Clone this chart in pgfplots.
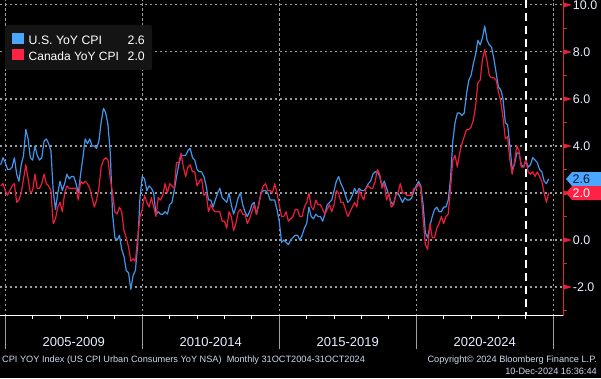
\documentclass[border=0pt]{standalone}
\usepackage{pgfplots}
\pgfplotsset{compat=1.18}
\usepackage{pgfplotstable}
\usepackage{fontspec}
\setmainfont{Liberation Sans}
\definecolor{usline}{HTML}{3F96EC}
\definecolor{caline}{HTML}{EC1C3E}
\definecolor{usbox}{HTML}{4AA6FF}
\definecolor{cabox}{HTML}{FF2244}
\definecolor{axred}{HTML}{E8203C}
\definecolor{gridc}{HTML}{9A9A9A}
\definecolor{sepc}{HTML}{A0A0A0}
\definecolor{tickc}{HTML}{E6EEFF}
\definecolor{footc}{HTML}{CCD8EE}
\definecolor{legbg}{HTML}{141414}
\definecolor{boxtext}{HTML}{0B1630}

% m = months since Oct 2004 (month-end), us = U.S. YoY CPI, ca = Canada YoY CPI
\pgfplotstableread{
m us ca
0 3.2 2.3
1 3.5 2.4
2 3.3 2.1
3 3.0 1.9
4 3.0 2.1
5 3.1 2.3
6 3.5 2.4
7 2.8 1.6
8 2.5 1.7
9 3.2 2.0
10 3.6 2.6
11 4.7 3.2
12 4.3 2.6
13 3.5 2.0
14 3.4 2.1
15 4.0 2.8
16 3.6 2.2
17 3.4 2.2
18 3.5 2.4
19 4.2 2.8
20 4.3 2.4
21 4.1 2.3
22 3.8 2.1
23 2.1 0.7
24 1.3 0.9
25 2.0 1.4
26 2.5 1.6
27 2.1 1.2
28 2.4 2.0
29 2.8 2.3
30 2.6 2.2
31 2.7 2.2
32 2.7 2.2
33 2.4 2.2
34 2.0 1.7
35 2.8 2.5
36 3.5 2.4
37 4.3 2.5
38 4.1 2.4
39 4.3 2.2
40 4.0 1.8
41 4.0 1.4
42 3.9 1.7
43 4.2 2.2
44 5.0 3.1
45 5.6 3.4
46 5.4 3.5
47 4.9 3.4
48 3.7 2.6
49 1.1 2.0
50 0.1 1.2
51 0.0 1.1
52 0.2 1.4
53 -0.4 1.2
54 -0.7 0.4
55 -1.3 0.1
56 -1.4 -0.3
57 -2.1 -0.9
58 -1.5 -0.8
59 -1.3 -0.9
60 -0.2 0.1
61 1.8 1.0
62 2.7 1.3
63 2.6 1.9
64 2.1 1.6
65 2.3 1.4
66 2.2 1.8
67 2.0 1.4
68 1.1 1.0
69 1.2 1.8
70 1.1 1.7
71 1.1 1.9
72 1.2 2.4
73 1.1 2.0
74 1.5 2.4
75 1.6 2.3
76 2.1 2.2
77 2.7 3.3
78 3.2 3.3
79 3.6 3.7
80 3.6 3.1
81 3.6 2.7
82 3.8 3.1
83 3.9 3.2
84 3.5 2.9
85 3.4 2.9
86 3.0 2.3
87 2.9 2.5
88 2.9 2.6
89 2.7 1.9
90 2.3 2.0
91 1.7 1.2
92 1.7 1.5
93 1.4 1.3
94 1.7 1.2
95 2.0 1.2
96 2.2 1.2
97 1.8 0.8
98 1.7 0.8
99 1.6 0.5
100 2.0 1.2
101 1.5 1.0
102 1.1 0.4
103 1.4 0.7
104 1.8 1.2
105 2.0 1.3
106 1.5 1.1
107 1.2 1.1
108 1.0 0.7
109 1.2 0.9
110 1.5 1.2
111 1.6 1.5
112 1.1 1.1
113 1.5 1.5
114 2.0 2.0
115 2.1 2.3
116 2.1 2.4
117 2.0 2.1
118 1.7 2.1
119 1.7 2.0
120 1.7 2.4
121 1.3 2.0
122 0.8 1.5
123 -0.1 1.0
124 0.0 1.0
125 -0.1 1.2
126 -0.2 0.8
127 0.0 0.9
128 0.1 1.0
129 0.2 1.3
130 0.2 1.3
131 0.0 1.0
132 0.2 1.0
133 0.5 1.4
134 0.7 1.6
135 1.4 2.0
136 1.0 1.4
137 0.9 1.3
138 1.1 1.7
139 1.0 1.5
140 1.0 1.5
141 0.8 1.3
142 1.1 1.1
143 1.5 1.3
144 1.6 1.5
145 1.7 1.2
146 2.1 1.5
147 2.5 2.1
148 2.7 2.0
149 2.4 1.6
150 2.2 1.6
151 1.9 1.3
152 1.6 1.0
153 1.7 1.2
154 1.9 1.4
155 2.2 1.6
156 2.0 1.4
157 2.2 2.1
158 2.1 1.9
159 2.1 1.7
160 2.2 2.2
161 2.4 2.3
162 2.5 2.2
163 2.8 2.2
164 2.9 2.5
165 2.9 3.0
166 2.7 2.8
167 2.3 2.2
168 2.5 2.4
169 2.2 1.7
170 1.9 2.0
171 1.6 1.4
172 1.5 1.5
173 1.9 1.9
174 2.0 2.0
175 1.8 2.4
176 1.6 2.0
177 1.8 2.0
178 1.7 1.9
179 1.7 1.9
180 1.8 1.9
181 2.1 2.2
182 2.3 2.2
183 2.5 2.4
184 2.3 2.2
185 1.5 0.9
186 0.3 -0.2
187 0.1 -0.4
188 0.6 0.7
189 1.0 0.1
190 1.3 0.1
191 1.4 0.5
192 1.2 0.7
193 1.2 1.0
194 1.4 0.7
195 1.4 1.0
196 1.7 1.1
197 2.6 2.2
198 4.2 3.4
199 5.0 3.6
200 5.4 3.1
201 5.4 3.7
202 5.3 4.1
203 5.4 4.4
204 6.2 4.7
205 6.8 4.7
206 7.0 4.8
207 7.5 5.1
208 7.9 5.7
209 8.5 6.7
210 8.3 6.8
211 8.6 7.7
212 9.1 8.1
213 8.5 7.6
214 8.3 7.0
215 8.2 6.9
216 7.7 6.9
217 7.1 6.8
218 6.5 6.3
219 6.4 5.9
220 6.0 5.2
221 5.0 4.3
222 4.9 4.4
223 4.0 3.4
224 3.0 2.8
225 3.2 3.3
226 3.7 4.0
227 3.7 3.8
228 3.2 3.1
229 3.1 3.1
230 3.4 3.4
231 3.1 2.9
232 3.2 2.8
233 3.5 2.9
234 3.4 2.7
235 3.3 2.9
236 3.0 2.7
237 2.9 2.5
238 2.5 2.0
239 2.4 1.6
240 2.6 2.0
}\cpidata

% pixel mapping of the axis (for decorations only)
\newcommand{\XM}[1]{2.28334*(#1+0.3)}
\newcommand{\YV}[1]{62.3+23.507*(#1+3.22)}

\begin{document}
\begin{tikzpicture}[x=1pt,y=1pt]
\path[use as bounding box, fill=black] (0,0) rectangle (601,378);
% horizontal grid
\foreach \v in {-2,0,2,4,6,8,10}{
  \draw[gridc, line width=1.1pt, dash pattern=on 2.2pt off 2.8pt] (0,{\YV{\v}}) -- (563.3,{\YV{\v}});
}
% vertical grid at 5-year boundaries + separators below axis
\foreach \m in {2,62,122,182,242}{
  \draw[gridc, line width=1.1pt, dash pattern=on 2.2pt off 2.8pt] ({\XM{\m}},62.3) -- ({\XM{\m}},378);
  \draw[sepc, line width=1pt] ({\XM{\m}},62.3) -- ({\XM{\m}},29);
}
% yearly ticks
\foreach \m in {14,26,38,50,74,86,98,110,134,146,158,170,194,206,218,230}{
  \draw[white, line width=0.9pt] ({\XM{\m}},62.3) -- ({\XM{\m}},58.6);
}
% dashed line at start of 2024
\draw[white, line width=1.4pt, dash pattern=on 8pt off 5pt] ({\XM{230}},378) -- ({\XM{230}},62.3);

\begin{axis}[
  at={(0pt,62.3pt)}, anchor=south west,
  scale only axis, width=563.3pt, height=315.7pt,
  xmin=-0.3, xmax=246.4, ymin=-3.22, ymax=10.21,
  xtick=\empty, ytick=\empty,
  axis line style={draw=none},
]
\addplot[usline, line width=1.2pt, line join=round] table[x=m, y=us] {\cpidata};
\addplot[caline, line width=1.2pt, line join=round] table[x=m, y=ca] {\cpidata};
\end{axis}

% x axis line
\draw[white, line width=1pt] (0,62.3) -- (563.3,62.3);
% right axis
\draw[axred, line width=1pt] (563.3,62.3) -- (563.3,378);
\foreach \v in {-2,0,2,4,6,8,10}{
  \fill[axred] (563.3,{\YV{\v}+2.6}) -- (571.9,{\YV{\v}}) -- (563.3,{\YV{\v}-2.6}) -- cycle;
}
\foreach \v in {-3,-1,1,3,5,7,9}{
  \draw[axred, line width=0.9pt] (563.3,{\YV{\v}}) -- (567.3,{\YV{\v}});
}
% y tick labels
\tikzset{ytl/.style={anchor=west, inner sep=0pt, text=tickc, font=\fontsize{12.5}{14}\selectfont}}
\node[ytl] at (572.7,{\YV{10}}) {10.0};
\node[ytl] at (572.7,{\YV{8}}) {8.0};
\node[ytl] at (572.7,{\YV{6}}) {6.0};
\node[ytl] at (572.7,{\YV{4}}) {4.0};
\node[ytl] at (572.7,{\YV{0}}) {0.0};
\node[ytl] at (572.7,{\YV{-2}}) {-2.0};
% category labels
\tikzset{catl/.style={anchor=base, inner sep=0pt, text=tickc, font=\fontsize{13}{15}\selectfont}}
\node[catl] at ({\XM{32}},31.3) {2005-2009};
\node[catl] at ({\XM{92}},31.3) {2010-2014};
\node[catl] at ({\XM{152}},31.3) {2015-2019};
\node[catl] at ({\XM{212}},31.3) {2020-2024};

% last-value boxes
\fill[usbox] (566,199) -- (572,206) -- (601,206) -- (601,192) -- (572,192) -- cycle;
\node[anchor=base west, inner sep=0pt, text=boxtext, font=\fontsize{12.5}{14}\selectfont] at (572.5,194.5) {2.6};
\fill[cabox] (566,185) -- (572,192) -- (601,192) -- (601,178) -- (572,178) -- cycle;
\node[anchor=base west, inner sep=0pt, text=white, font=\fontsize{12.5}{14}\selectfont] at (572.5,180.5) {2.0};

% legend
\fill[legbg, rounded corners=2pt] (5,353) rectangle (152,308);
\fill[usbox] (12,345) rectangle (24,334);
\fill[cabox] (12,329) rectangle (24,317.5);
\node[anchor=base west, inner sep=0pt, text=white, font=\fontsize{12.3}{14}\selectfont] at (28.5,333.2) {U.S. YoY CPI};
\node[anchor=base east, inner sep=0pt, text=white, font=\fontsize{12.3}{14}\selectfont] at (145,333.2) {2.6};
\node[anchor=base west, inner sep=0pt, text=white, font=\fontsize{12}{14}\selectfont] at (28.5,317.5) {Canada YoY CPI};
\node[anchor=base east, inner sep=0pt, text=white, font=\fontsize{12.3}{14}\selectfont] at (145,317.5) {2.0};

% footer
\node[anchor=base west, inner sep=0pt, text=footc, font=\fontsize{9.2}{10}\selectfont] at (2,15.5) {CPI YOY Index (US CPI Urban Consumers YoY NSA)\ \ Monthly 31OCT2004-31OCT2024};
\node[anchor=base east, inner sep=0pt, text=footc, font=\fontsize{9.2}{10}\selectfont] at (597,15.5) {Copyright© 2024 Bloomberg Finance L.P.};
\node[anchor=base east, inner sep=0pt, text=footc, font=\fontsize{9.2}{10}\selectfont] at (597,3.7) {10-Dec-2024 16:36:44};
\end{tikzpicture}
\end{document}
